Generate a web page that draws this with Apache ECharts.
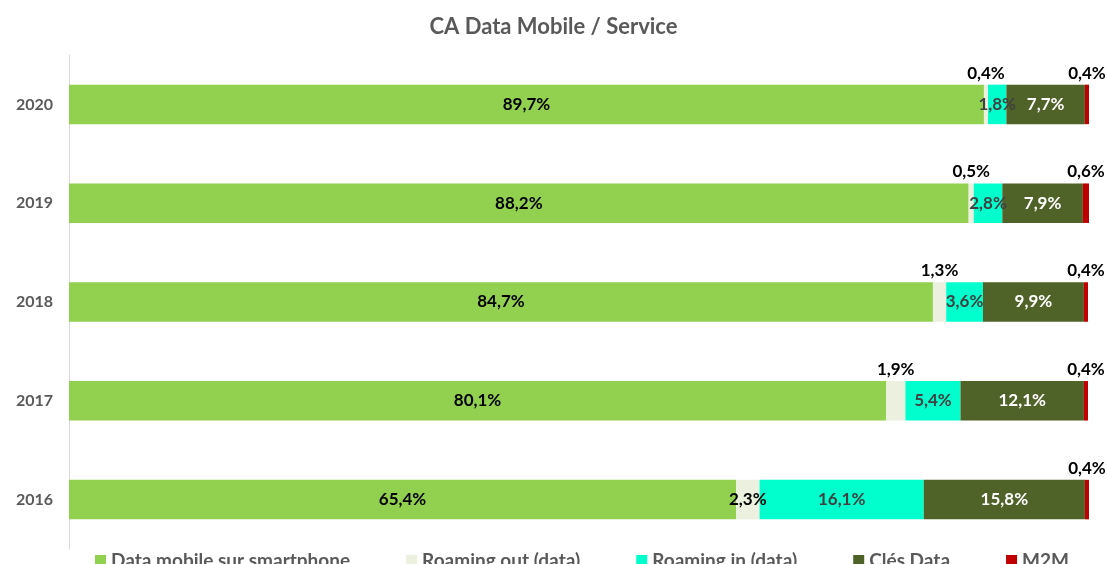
<!DOCTYPE html>
<html>
<head>
<meta charset="utf-8">
<script src="https://cdn.jsdelivr.net/npm/echarts@6/dist/echarts.min.js"></script>
<style>
  html, body { margin: 0; padding: 0; background: #fff; }
  #chart { width: 1107px; height: 564px; }
</style>
</head>
<body>
<div id="chart"></div>
<script>
// Years, bottom to top on the category axis
const years = ['2016', '2017', '2018', '2019', '2020'];

// Share of mobile data revenue by service (%)
const dataSmartphone = [65.4, 80.1, 84.7, 88.2, 89.7];
const roamingOut     = [2.3, 1.9, 1.3, 0.5, 0.4];
const roamingIn      = [16.1, 5.4, 3.6, 2.8, 1.8];
const clesData       = [15.8, 12.1, 9.9, 7.9, 7.7];
const m2m            = [0.4, 0.4, 0.4, 0.6, 0.4];

const seriesNames = ['Data mobile sur smartphone', 'Roaming out (data)', 'Roaming in (data)', 'Clés Data', 'M2M'];

const FONT = 'Lato, "Open Sans", sans-serif';
const fmt = v => v.toFixed(1).replace('.', ',') + '%';

function baseLabel(color) {
  return {
    show: true,
    formatter: p => fmt(p.value),
    fontFamily: FONT,
    fontWeight: 'bold',
    fontSize: 17,
    color: color
  };
}

// Narrow segments get their label placed above the bar
function itemsWithOutsideLabels(values, threshold) {
  return values.map(v => v < threshold
    ? { value: v, label: { position: 'top', distance: 3 } }
    : { value: v, label: { position: 'inside' } });
}

const chart = echarts.init(document.getElementById('chart'));
chart.setOption({
  animation: false,
  title: {
    text: 'CA Data Mobile / Service',
    left: 'center',
    top: 11,
    textStyle: { fontFamily: FONT, fontSize: 22, fontWeight: 'bold', color: '#595959' }
  },
  legend: {
    data: seriesNames,
    left: 90,
    top: 546,
    itemWidth: 11,
    itemHeight: 11,
    itemGap: 56,
    icon: 'rect',
    textStyle: { fontFamily: FONT, fontSize: 19, fontWeight: 'bold', color: '#595959' }
  },
  grid: { left: 69, right: 18, top: 55, bottom: 15, containLabel: false },
  xAxis: {
    type: 'value',
    min: 0,
    max: 100,
    show: false
  },
  yAxis: {
    type: 'category',
    data: years,
    axisLine: { show: true, lineStyle: { color: '#D9D9D9', width: 1 } },
    axisTick: { show: false },
    axisLabel: { fontFamily: FONT, fontSize: 16, fontWeight: 'bold', color: '#595959', margin: 16 }
  },
  series: [
    {
      name: seriesNames[0], type: 'bar', stack: 'total', barCategoryGap: '60%',
      data: dataSmartphone,
      itemStyle: { color: '#92D050' },
      label: Object.assign(baseLabel('#000000'), { position: 'inside' })
    },
    {
      name: seriesNames[1], type: 'bar', stack: 'total',
      data: itemsWithOutsideLabels(roamingOut, 2),
      itemStyle: { color: '#EBF1DE' },
      label: baseLabel('#000000')
    },
    {
      name: seriesNames[2], type: 'bar', stack: 'total',
      data: roamingIn,
      itemStyle: { color: '#00FFCC' },
      label: Object.assign(baseLabel('#404040'), { position: 'inside' })
    },
    {
      name: seriesNames[3], type: 'bar', stack: 'total',
      data: clesData,
      itemStyle: { color: '#4F6228' },
      label: Object.assign(baseLabel('#FFFFFF'), { position: 'inside' })
    },
    {
      name: seriesNames[4], type: 'bar', stack: 'total',
      data: m2m,
      itemStyle: { color: '#C00000' },
      label: Object.assign(baseLabel('#000000'), { position: 'top', distance: 3 })
    }
  ]
});
</script>
</body>
</html>
